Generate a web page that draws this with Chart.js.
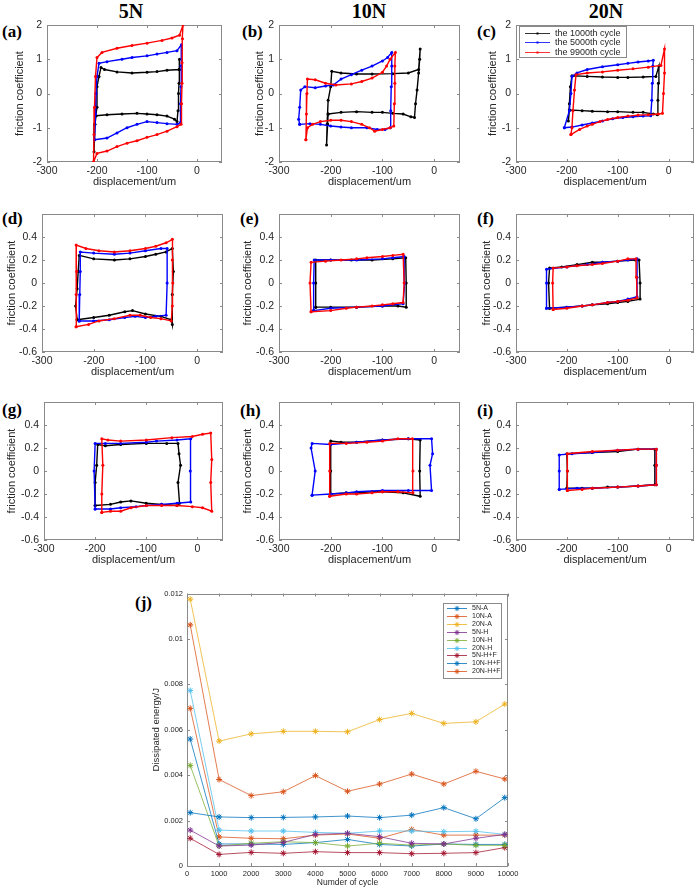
<!DOCTYPE html>
<html>
<head>
<meta charset="utf-8">
<script src="https://cdn.jsdelivr.net/npm/chart.js@4.4.1/dist/chart.umd.min.js"></script>
<style>
  body { margin: 0; background: #fff; width: 700px; height: 890px; position: relative; overflow: hidden; }
  canvas { position: absolute; }
  .col { position: absolute; top: 1px; font: bold 20px/1 "Liberation Serif", "Times New Roman", serif; transform: translateX(-50%); color: #000; }
  .tag { position: absolute; font: bold 17px/1 "Liberation Serif", "Times New Roman", serif; color: #000; }
</style>
</head>
<body>
<div class="col" style="left:131px">5N</div>
<div class="col" style="left:369px">10N</div>
<div class="col" style="left:606px">20N</div>

<div class="tag" style="left:2px;top:23px">(a)</div>
<div class="tag" style="left:242px;top:23px">(b)</div>
<div class="tag" style="left:477px;top:23px">(c)</div>
<div class="tag" style="left:2px;top:210px">(d)</div>
<div class="tag" style="left:240px;top:210px">(e)</div>
<div class="tag" style="left:477px;top:210px">(f)</div>
<div class="tag" style="left:2px;top:401px">(g)</div>
<div class="tag" style="left:240px;top:402px">(h)</div>
<div class="tag" style="left:477px;top:402px">(i)</div>
<div class="tag" style="left:135px;top:594px">(j)</div>

<canvas id="pa"></canvas><canvas id="pb"></canvas><canvas id="pc"></canvas>
<canvas id="pd"></canvas><canvas id="pe"></canvas><canvas id="pf"></canvas>
<canvas id="pg"></canvas><canvas id="ph"></canvas><canvas id="pi"></canvas>
<canvas id="pj"></canvas>

<script>
// ---- tick labels ----
const dispTicks = [-300, -200, -100, 0];
const fricTicksHigh = [-2, -1, 0, 1, 2];
const fricTicksLow = [-0.6, -0.4, -0.2, 0, 0.2, 0.4];
const cycleTicks = [0, 1000, 2000, 3000, 4000, 5000, 6000, 7000, 8000, 9000, 10000];
const energyTicks = [0, 0.002, 0.004, 0.006, 0.008, 0.01, 0.012];
const cycleLabels = ["the 1000th cycle", "the 5000th cycle", "the 9900th cycle"];

// ---- friction loops, [displacement um, friction coefficient] ----
const a1000 = [[-202,-0.65],[-180,-0.62],[-150,-0.6],[-120,-0.58],[-100,-0.6],[-80,-0.62],[-60,-0.66],[-45,-0.75],[-40,-0.82],[-38,-0.5],[-37,0],[-36,0.3],[-35,0.7],[-35,1.0],[-36,0.7],[-60,0.68],[-80,0.64],[-100,0.62],[-130,0.6],[-160,0.63],[-185,0.7],[-192,0.76],[-196,0.5],[-200,0.2],[-200,-0.4],[-205,-0.9],[-206,-1.7],[-204,-0.9],[-202,-0.65]];
const a5000 = [[-205,-1.35],[-180,-1.3],[-160,-1.15],[-140,-1.0],[-120,-0.9],[-100,-0.82],[-80,-0.85],[-60,-0.88],[-40,-0.9],[-33,-0.85],[-33,-0.3],[-32,0.2],[-32,0.8],[-31,1.42],[-40,1.25],[-60,1.2],[-80,1.15],[-100,1.1],[-130,1.05],[-150,1.0],[-180,0.93],[-196,0.88],[-200,0.5],[-202,0],[-203,-0.6],[-205,-1.35]];
const a9900 = [[-207,-2.0],[-200,-1.75],[-180,-1.68],[-160,-1.55],[-140,-1.45],[-120,-1.38],[-100,-1.28],[-80,-1.2],[-60,-1.1],[-40,-0.97],[-32,-0.9],[-31,-0.3],[-30,0.3],[-30,0.9],[-29,1.6],[-28,2.0],[-35,1.7],[-50,1.62],[-70,1.55],[-100,1.47],[-130,1.4],[-160,1.32],[-190,1.2],[-200,1.05],[-203,0.5],[-205,-0.4],[-206,-1.2],[-207,-2.0]];

const b1000 = [[-205,-0.6],[-180,-0.55],[-150,-0.53],[-120,-0.55],[-100,-0.55],[-80,-0.58],[-60,-0.6],[-45,-0.68],[-38,-0.7],[-36,-0.3],[-33,0.1],[-30,0.6],[-28,1.0],[-27,1.3],[-30,0.7],[-50,0.6],[-80,0.58],[-120,0.57],[-150,0.57],[-180,0.6],[-198,0.65],[-200,0.2],[-205,-0.2],[-207,-0.9],[-208,-1.5],[-206,-0.9],[-205,-0.6]];
const b5000 = [[-260,-0.9],[-240,-0.88],[-220,-0.9],[-200,-0.95],[-180,-0.98],[-160,-1.0],[-130,-1.0],[-110,-1.05],[-95,-1.05],[-85,-1.0],[-84,-0.5],[-83,0.2],[-82,0.8],[-82,1.2],[-90,1.05],[-100,0.95],[-120,0.8],[-140,0.68],[-160,0.55],[-180,0.42],[-195,0.25],[-210,0.22],[-230,0.17],[-250,0.2],[-258,0.1],[-260,-0.4],[-262,-0.75],[-260,-0.9]];
const b9900 = [[-248,-1.35],[-245,-1.0],[-235,-0.9],[-220,-0.82],[-200,-0.78],[-180,-0.78],[-160,-0.82],[-140,-0.9],[-125,-1.0],[-115,-1.1],[-100,-1.05],[-85,-1.0],[-78,-0.95],[-77,-0.3],[-76,0.3],[-76,0.8],[-75,1.2],[-85,1.0],[-92,0.8],[-100,0.62],[-120,0.45],[-140,0.35],[-160,0.28],[-190,0.25],[-210,0.3],[-230,0.4],[-245,0.42],[-246,0],[-247,-0.6],[-248,-1.35]];

const c1000 = [[-195,-0.48],[-170,-0.5],[-150,-0.52],[-120,-0.53],[-100,-0.53],[-70,-0.55],[-50,-0.55],[-30,-0.6],[-22,-0.62],[-21,-0.2],[-20,0.3],[-19,0.8],[-25,0.5],[-50,0.48],[-80,0.47],[-100,0.47],[-130,0.48],[-160,0.5],[-190,0.52],[-193,0.2],[-195,-0.3],[-197,-0.8],[-195,-0.48]];
const c5000 = [[-205,-1.0],[-190,-0.98],[-170,-0.92],[-150,-0.86],[-130,-0.8],[-110,-0.74],[-90,-0.7],[-70,-0.68],[-50,-0.66],[-35,-0.65],[-33,-0.2],[-32,0.3],[-31,0.8],[-30,0.97],[-40,0.95],[-60,0.92],[-80,0.88],[-100,0.84],[-130,0.78],[-160,0.7],[-180,0.6],[-190,0.5],[-192,0],[-195,-0.5],[-205,-1.0]];
const c9900 = [[-192,-1.2],[-175,-1.05],[-160,-0.95],[-150,-0.9],[-135,-0.82],[-120,-0.76],[-100,-0.7],[-80,-0.66],[-60,-0.63],[-40,-0.62],[-20,-0.6],[-12,-0.58],[-10,0],[-8,0.6],[-8,1.3],[-15,0.82],[-40,0.77],[-70,0.72],[-100,0.68],[-130,0.63],[-160,0.6],[-182,0.55],[-185,0.1],[-188,-0.5],[-190,-1.0],[-192,-1.2]];

const d1000 = [[-232,-0.32],[-200,-0.3],[-170,-0.28],[-140,-0.25],[-125,-0.24],[-100,-0.27],[-70,-0.29],[-50,-0.32],[-48,-0.36],[-48,-0.1],[-46,0.1],[-48,0.3],[-60,0.27],[-80,0.25],[-100,0.23],[-130,0.21],[-160,0.2],[-200,0.21],[-228,0.24],[-230,0.1],[-232,-0.05],[-235,-0.2],[-232,-0.32]];
const d5000 = [[-228,-0.33],[-200,-0.33],[-170,-0.32],[-140,-0.3],[-120,-0.29],[-100,-0.3],[-80,-0.29],[-60,-0.28],[-58,0],[-58,0.3],[-70,0.3],[-100,0.28],[-130,0.26],[-160,0.25],[-200,0.26],[-226,0.27],[-226,0.1],[-227,-0.1],[-228,-0.33]];
const d9900 = [[-234,-0.38],[-210,-0.36],[-190,-0.33],[-160,-0.31],[-130,-0.28],[-110,-0.28],[-90,-0.3],[-70,-0.31],[-50,-0.33],[-48,-0.2],[-47,0],[-48,0.2],[-48,0.38],[-60,0.35],[-80,0.32],[-100,0.3],[-130,0.28],[-160,0.27],[-190,0.28],[-215,0.3],[-234,0.33],[-233,0.1],[-234,-0.1],[-234,-0.38]];

const e1000 = [[-229,-0.21],[-200,-0.21],[-150,-0.21],[-100,-0.2],[-70,-0.2],[-54,-0.21],[-54,0],[-55,0.22],[-80,0.21],[-120,0.2],[-160,0.2],[-200,0.2],[-229,0.2],[-229,0],[-229,-0.21]];
const e5000 = [[-233,-0.24],[-200,-0.22],[-150,-0.21],[-100,-0.2],[-60,-0.18],[-57,0],[-58,0.23],[-80,0.22],[-100,0.21],[-150,0.2],[-200,0.2],[-232,0.2],[-233,0],[-233,-0.24]];
const e9900 = [[-238,-0.25],[-200,-0.24],[-170,-0.22],[-150,-0.21],[-120,-0.2],[-100,-0.19],[-80,-0.18],[-60,-0.17],[-58,0],[-60,0.25],[-80,0.24],[-100,0.23],[-130,0.22],[-150,0.21],[-180,0.2],[-210,0.19],[-238,0.18],[-240,0],[-238,-0.25]];

const f1000 = [[-234,-0.22],[-200,-0.21],[-170,-0.2],[-150,-0.19],[-120,-0.18],[-100,-0.17],[-80,-0.16],[-56,-0.14],[-56,0],[-58,0.2],[-65,0.2],[-100,0.19],[-130,0.18],[-150,0.18],[-180,0.16],[-210,0.14],[-234,0.13],[-236,0],[-234,-0.22]];
const f5000 = [[-240,-0.22],[-200,-0.21],[-170,-0.2],[-150,-0.19],[-120,-0.17],[-100,-0.16],[-80,-0.14],[-62,-0.12],[-62,0.05],[-62,0.21],[-80,0.2],[-100,0.19],[-130,0.18],[-160,0.16],[-200,0.14],[-240,0.12],[-240,0],[-240,-0.22]];
const f9900 = [[-227,-0.23],[-200,-0.22],[-170,-0.2],[-150,-0.19],[-120,-0.17],[-100,-0.16],[-80,-0.15],[-62,-0.13],[-63,0.05],[-64,0.21],[-80,0.21],[-100,0.19],[-130,0.17],[-150,0.16],[-180,0.15],[-200,0.14],[-227,0.13],[-228,0],[-227,-0.23]];

const g1000 = [[-200,-0.3],[-170,-0.29],[-150,-0.27],[-130,-0.26],[-100,-0.28],[-70,-0.29],[-40,-0.3],[-35,-0.28],[-38,-0.1],[-33,0.05],[-36,0.15],[-38,0.24],[-60,0.24],[-100,0.24],[-150,0.23],[-180,0.22],[-195,0.23],[-197,0.05],[-200,-0.1],[-200,-0.3]];
const g5000 = [[-200,-0.33],[-170,-0.33],[-150,-0.32],[-120,-0.31],[-100,-0.3],[-70,-0.29],[-40,-0.28],[-13,-0.27],[-14,0],[-13,0.28],[-40,0.27],[-80,0.26],[-100,0.25],[-150,0.24],[-180,0.24],[-200,0.24],[-202,0],[-200,-0.33]];
const g9900 = [[-187,-0.36],[-170,-0.35],[-150,-0.35],[-130,-0.32],[-100,-0.3],[-70,-0.3],[-40,-0.3],[-10,-0.31],[10,-0.32],[28,-0.35],[26,-0.1],[28,0.1],[26,0.33],[10,0.32],[-10,0.3],[-50,0.29],[-100,0.27],[-150,0.26],[-175,0.27],[-187,0.28],[-185,0.05],[-187,-0.2],[-187,-0.36]];

const h1000 = [[-200,-0.2],[-170,-0.19],[-150,-0.19],[-120,-0.18],[-100,-0.18],[-60,-0.19],[-27,-0.22],[-28,0],[-27,0.27],[-50,0.28],[-100,0.27],[-150,0.25],[-180,0.25],[-200,0.26],[-200,0],[-200,-0.2]];
const h5000 = [[-236,-0.21],[-200,-0.2],[-170,-0.19],[-150,-0.18],[-100,-0.17],[-50,-0.17],[-5,-0.17],[-8,0.05],[-3,0.15],[-5,0.28],[-50,0.28],[-100,0.27],[-150,0.25],[-200,0.23],[-236,0.24],[-238,0.2],[-230,0],[-236,-0.21]];
const h9900 = [[-202,-0.22],[-170,-0.2],[-150,-0.2],[-120,-0.19],[-100,-0.18],[-70,-0.18],[-41,-0.19],[-41,0],[-42,0.28],[-70,0.28],[-100,0.26],[-130,0.25],[-170,0.24],[-202,0.24],[-202,0],[-202,-0.22]];

const i1000 = [[-200,-0.15],[-170,-0.15],[-150,-0.15],[-120,-0.14],[-100,-0.14],[-60,-0.13],[-27,-0.12],[-27,0.05],[-27,0.19],[-60,0.19],[-100,0.17],[-150,0.16],[-200,0.15],[-199,0],[-200,-0.15]];
const i5000 = [[-215,-0.16],[-180,-0.15],[-150,-0.15],[-100,-0.14],[-60,-0.13],[-24,-0.12],[-24,0.05],[-24,0.19],[-60,0.19],[-100,0.18],[-150,0.16],[-190,0.15],[-215,0.14],[-215,0],[-215,-0.16]];
const i9900 = [[-199,-0.17],[-170,-0.16],[-150,-0.15],[-100,-0.14],[-60,-0.13],[-24,-0.12],[-24,0.05],[-24,0.19],[-60,0.19],[-100,0.18],[-150,0.17],[-199,0.15],[-199,0],[-199,-0.17]];

// ---- panel (j): dissipated energy per cycle ----
const cycles = [100, 1000, 2000, 3000, 4000, 5000, 6000, 7000, 8000, 9000, 9900];
const e5N_A   = [0.00235, 0.00216, 0.00213, 0.00214, 0.00216, 0.0022, 0.00213, 0.00224, 0.00257, 0.00208, 0.00301];
const e10N_A  = [0.01062, 0.00381, 0.0031, 0.00327, 0.00398, 0.00329, 0.00361, 0.00405, 0.00361, 0.00417, 0.00383];
const e20N_A  = [0.01175, 0.0055, 0.00582, 0.00593, 0.00593, 0.00591, 0.00645, 0.00672, 0.00628, 0.00635, 0.00713];
const e5N_H   = [0.00158, 0.00088, 0.00092, 0.00104, 0.00139, 0.00144, 0.00129, 0.001, 0.00097, 0.00122, 0.00139];
const e10N_H  = [0.00443, 0.00088, 0.001, 0.00107, 0.00103, 0.00088, 0.001, 0.00092, 0.00097, 0.00091, 0.00091];
const e20N_H  = [0.00773, 0.00158, 0.00154, 0.00154, 0.00148, 0.00144, 0.00154, 0.00154, 0.00151, 0.00153, 0.00139];
const e5N_HF  = [0.00122, 0.00051, 0.0006, 0.00056, 0.00063, 0.00059, 0.00059, 0.00054, 0.00056, 0.00059, 0.00081];
const e10N_HF = [0.00559, 0.00097, 0.00097, 0.00095, 0.00103, 0.00117, 0.00095, 0.00088, 0.00097, 0.00095, 0.00095];
const e20N_HF = [0.00694, 0.00128, 0.00122, 0.0012, 0.00136, 0.00141, 0.00122, 0.00161, 0.00136, 0.00136, 0.00136];

const seriesNames = ["5N-A", "10N-A", "20N-A", "5N-H", "10N-H", "20N-H", "5N-H+F", "10N-H+F", "20N-H+F"];
const seriesValues = [e5N_A, e10N_A, e20N_A, e5N_H, e10N_H, e20N_H, e5N_HF, e10N_HF, e20N_HF];
const seriesColors = ["#0072BD", "#D95319", "#EDB120", "#7E2F8E", "#77AC30", "#4DBEEE", "#A2142F", "#0072BD", "#D95319"];

const cycleColors = ["#000000", "#0000ff", "#ff0000"];
const TXT = "#262626";
const SANS = '"Liberation Sans", Arial, sans-serif';

const toPts = arr => arr.map(p => ({ x: p[0], y: p[1] }));

// box frame with inward ticks, like a matlab axes
const framePlugin = {
  id: "frame",
  beforeDatasetsDraw(chart) {
    const { ctx, chartArea: a, scales } = chart;
    ctx.save();
    ctx.strokeStyle = "#8a8a8a";
    ctx.lineWidth = 1;
    ctx.strokeRect(Math.round(a.left) + 0.5, Math.round(a.top) + 0.5,
                   Math.round(a.right - a.left) - 1, Math.round(a.bottom - a.top) - 1);
    ctx.beginPath();
    const len = 3;
    scales.x.ticks.forEach(t => {
      const px = Math.round(scales.x.getPixelForValue(t.value)) + 0.5;
      ctx.moveTo(px, a.bottom); ctx.lineTo(px, a.bottom - len);
      ctx.moveTo(px, a.top); ctx.lineTo(px, a.top + len);
    });
    scales.y.ticks.forEach(t => {
      const py = Math.round(scales.y.getPixelForValue(t.value)) + 0.5;
      ctx.moveTo(a.left, py); ctx.lineTo(a.left + len, py);
      ctx.moveTo(a.right, py); ctx.lineTo(a.right - len, py);
    });
    ctx.stroke();
    ctx.restore();
  }
};

function drawStar(ctx, x, y, r) {
  ctx.beginPath();
  ctx.moveTo(x - r, y); ctx.lineTo(x + r, y);
  ctx.moveTo(x, y - r); ctx.lineTo(x, y + r);
  const d = r * 0.707;
  ctx.moveTo(x - d, y - d); ctx.lineTo(x + d, y + d);
  ctx.moveTo(x - d, y + d); ctx.lineTo(x + d, y - d);
  ctx.stroke();
}

// legend drawn inside the plot box
function boxLegend(o) {
  return {
    id: "boxLegend",
    afterDraw(chart) {
      const { ctx, chartArea: a } = chart;
      const bx = o.fromRight ? a.right - o.dx - o.w : a.left + o.dx;
      const by = a.top + o.dy;
      ctx.save();
      ctx.fillStyle = "#fff";
      ctx.fillRect(bx, by, o.w, o.h);
      ctx.strokeStyle = "#8a8a8a";
      ctx.lineWidth = 1;
      ctx.strokeRect(Math.round(bx) + 0.5, Math.round(by) + 0.5, o.w, o.h);
      ctx.font = o.font;
      ctx.textBaseline = "middle";
      o.labels.forEach((lab, k) => {
        const y = Math.round(by + o.first + k * o.row) + 0.5;
        ctx.strokeStyle = o.colors[k];
        ctx.globalAlpha = 0.8;
        ctx.lineWidth = 1;
        ctx.beginPath();
        ctx.moveTo(bx + o.l0, y); ctx.lineTo(bx + o.l1, y);
        ctx.stroke();
        ctx.globalAlpha = 1;
        if (o.star) drawStar(ctx, bx + (o.l0 + o.l1) / 2, y, 2.6);
        else { ctx.fillStyle = o.colors[k]; ctx.fillRect(bx + (o.l0 + o.l1) / 2 - 1, y - 1, 2, 2); }
        ctx.fillStyle = TXT;
        ctx.fillText(lab, bx + o.tx, y);
      });
      ctx.restore();
    }
  };
}

function fixTicks(list) {
  return scale => { scale.ticks = list.map(v => ({ value: v })); };
}

function loopPanel(id, base, box, titleX, yRange, yTicks, loops, extra) {
  const cv = document.getElementById(id);
  const top = box.t - 12, bottom = box.b + 30;
  cv.width = box.r + 4 - base;
  cv.height = bottom - top;
  cv.style.left = base + "px";
  cv.style.top = top + "px";
  const titleFont = { family: SANS, size: 11 };
  const datasets = loops.map((pts, k) => ({
    label: cycleLabels[k],
    data: toPts(pts),
    showLine: true,
    borderColor: cycleColors[k],
    backgroundColor: cycleColors[k],
    borderWidth: 1.4,
    pointRadius: 1.5,
    pointBorderWidth: 0,
    order: 2 - k
  }));
  new Chart(cv, {
    type: "scatter",
    data: { datasets },
    plugins: extra ? [framePlugin, extra] : [framePlugin],
    options: {
      responsive: false,
      animation: false,
      events: [],
      layout: { padding: { top: 12, right: 4, left: 0, bottom: 0 } },
      plugins: { legend: { display: false }, tooltip: { enabled: false } },
      scales: {
        x: {
          type: "linear", min: -300, max: 50,
          afterBuildTicks: fixTicks(dispTicks),
          afterFit: s => { s.height = 30; },
          grid: { display: false, drawTicks: false },
          border: { display: false },
          ticks: { color: TXT, font: { family: SANS, size: 10.5 }, padding: 3, maxRotation: 0, callback: v => String(v) },
          title: { display: true, text: "displacement/um", color: TXT, font: titleFont, padding: { top: 0, bottom: 3.4 } }
        },
        y: {
          type: "linear", min: yRange[0], max: yRange[1],
          afterBuildTicks: fixTicks(yTicks),
          afterFit: s => { s.width = box.l - base; },
          grid: { display: false, drawTicks: false },
          border: { display: false },
          ticks: { color: TXT, font: { family: SANS, size: 10.5 }, padding: 5, callback: v => String(v) },
          title: { display: true, text: "friction coefficient", color: TXT, font: titleFont,
                   padding: { top: Math.max(0, titleX - base - 6.6), bottom: 0 } }
        }
      }
    }
  });
}

const legendC = boxLegend({
  dx: 3, dy: 1, w: 107, h: 31, first: 6.5, row: 9.5, l0: 6, l1: 31, tx: 36,
  font: "9px " + SANS, labels: cycleLabels, colors: cycleColors, star: false
});

loopPanel("pa", 0,   { l: 47,  t: 25,  r: 222, b: 162 }, 20,  [-2, 2], fricTicksHigh, [a1000, a5000, a9900]);
loopPanel("pb", 230, { l: 279, t: 25,  r: 460, b: 162 }, 260, [-2, 2], fricTicksHigh, [b1000, b5000, b9900]);
loopPanel("pc", 460, { l: 516, t: 25,  r: 694, b: 162 }, 493, [-2, 2], fricTicksHigh, [c1000, c5000, c9900], legendC);
loopPanel("pd", 0,   { l: 42,  t: 214, r: 223, b: 352 }, 12,  [-0.6, 0.6], fricTicksLow, [d1000, d5000, d9900]);
loopPanel("pe", 230, { l: 279, t: 214, r: 460, b: 352 }, 248, [-0.6, 0.6], fricTicksLow, [e1000, e5000, e9900]);
loopPanel("pf", 460, { l: 516, t: 214, r: 694, b: 352 }, 487, [-0.6, 0.6], fricTicksLow, [f1000, f5000, f9900]);
loopPanel("pg", 0,   { l: 44,  t: 402, r: 223, b: 540 }, 12,  [-0.6, 0.6], fricTicksLow, [g1000, g5000, g9900]);
loopPanel("ph", 230, { l: 279, t: 402, r: 460, b: 540 }, 248, [-0.6, 0.6], fricTicksLow, [h1000, h5000, h9900]);
loopPanel("pi", 460, { l: 516, t: 402, r: 694, b: 540 }, 487, [-0.6, 0.6], fricTicksLow, [i1000, i5000, i9900]);

// ---- panel (j) ----
(function () {
  const cv = document.getElementById("pj");
  const base = 130, box = { l: 187, t: 593, r: 508, b: 866 };
  const top = 585, bottom = 890, padR = 14;
  cv.width = box.r + padR - base;
  cv.height = bottom - top;
  cv.style.left = base + "px";
  cv.style.top = top + "px";
  const datasets = seriesNames.map((name, k) => ({
    label: name,
    data: cycles.map((c, n) => ({ x: c, y: seriesValues[k][n] })),
    borderColor: seriesColors[k] + "c0",
    backgroundColor: seriesColors[k],
    pointBorderColor: seriesColors[k],
    borderWidth: 1,
    pointStyle: "star",
    pointRadius: 3,
    pointBorderWidth: 1,
    tension: 0
  }));
  const legendJ = boxLegend({
    fromRight: true, dx: 7, dy: 9, w: 58, h: 75, first: 5.5, row: 7.9, l0: 4, l1: 24, tx: 29,
    font: "7px " + SANS, labels: seriesNames, colors: seriesColors, star: true
  });
  new Chart(cv, {
    type: "line",
    data: { datasets },
    plugins: [framePlugin, legendJ],
    options: {
      responsive: false,
      animation: false,
      events: [],
      layout: { padding: { top: box.t - top, right: padR, left: 0, bottom: 0 } },
      plugins: { legend: { display: false }, tooltip: { enabled: false } },
      scales: {
        x: {
          type: "linear", min: 0, max: 10000,
          afterBuildTicks: fixTicks(cycleTicks),
          afterFit: s => { s.height = bottom - box.b; },
          grid: { display: false, drawTicks: false },
          border: { display: false },
          ticks: { color: TXT, font: { family: SANS, size: 7.5 }, padding: 3, maxRotation: 0, callback: v => String(v) },
          title: { display: true, text: "Numder of cycle", color: TXT, font: { family: SANS, size: 8.5 }, padding: { top: 0, bottom: 2 } }
        },
        y: {
          type: "linear", min: 0, max: 0.012,
          afterBuildTicks: fixTicks(energyTicks),
          afterFit: s => { s.width = box.l - base; },
          grid: { display: false, drawTicks: false },
          border: { display: false },
          ticks: { color: TXT, font: { family: SANS, size: 7.5 }, padding: 4, callback: v => String(v) },
          title: { display: true, text: "Dissipated energy/J", color: TXT, font: { family: SANS, size: 9.5 }, padding: { top: 21, bottom: 0 } }
        }
      }
    }
  });
})();
</script>
</body>
</html>
